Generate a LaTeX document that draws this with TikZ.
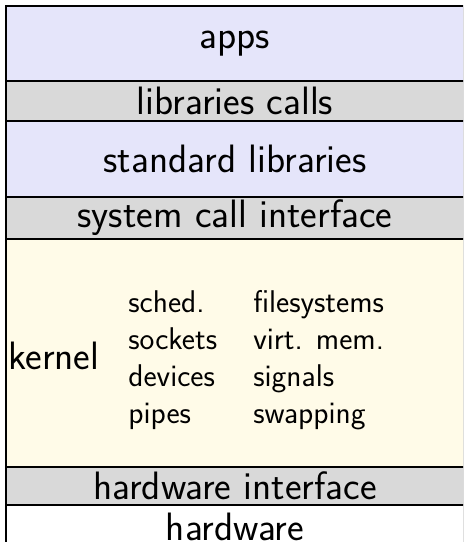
\documentclass[tikz,border=0pt]{standalone}
\usetikzlibrary{positioning}
\definecolor{userblue}{RGB}{229,229,250}
\definecolor{ifgray}{RGB}{217,217,217}
\definecolor{kerncream}{RGB}{255,251,232}
\begin{document}
\begin{tikzpicture}[x=1pt,y=-1pt,
  layer/.style={draw, line width=1pt, minimum width=229pt, outer sep=0pt, inner sep=0pt,
    font=\fontsize{19.8}{23}\selectfont\sffamily},
  iface/.style={layer, fill=ifgray},
  parts/.style={inner sep=0pt, align=left, font=\fontsize{15.7}{18.5}\selectfont\sffamily}]
\clip (0,0) rectangle (231.5,271);
\node[layer, fill=userblue, minimum height=37.5pt] (apps) at (117.5,21.75) {apps};
\node[iface, minimum height=19.75pt, below=0pt of apps] (libcalls) {libraries calls};
\node[layer, fill=userblue, minimum height=38.25pt, below=0pt of libcalls] (stdlib) {standard libraries};
\node[iface, minimum height=21pt, below=0pt of stdlib] (syscall) {system call interface};
\node[layer, fill=kerncream, minimum height=114pt, below=0pt of syscall] (kernel) {};
\node[iface, minimum height=19pt, below=0pt of kernel] (hwiface) {hardware interface};
\node[layer, fill=white, minimum height=22pt, below=0pt of hwiface] (hw) {hardware};
% inside the kernel
\node[anchor=west, inner sep=1pt, font=\fontsize{19.8}{23}\selectfont\sffamily]
  (kernlabel) at ([yshift=-1.5pt]kernel.west) {kernel};
\node[parts, anchor=west] (kernparts) at ([xshift=61pt,yshift=-4pt]kernel.west)
  {\begin{tabular}{@{}p{62.5pt}@{}l@{}}
   sched.  & filesystems \\
   sockets & virt. mem. \\
   devices & signals \\
   pipes   & swapping
   \end{tabular}};
\end{tikzpicture}
\end{document}
